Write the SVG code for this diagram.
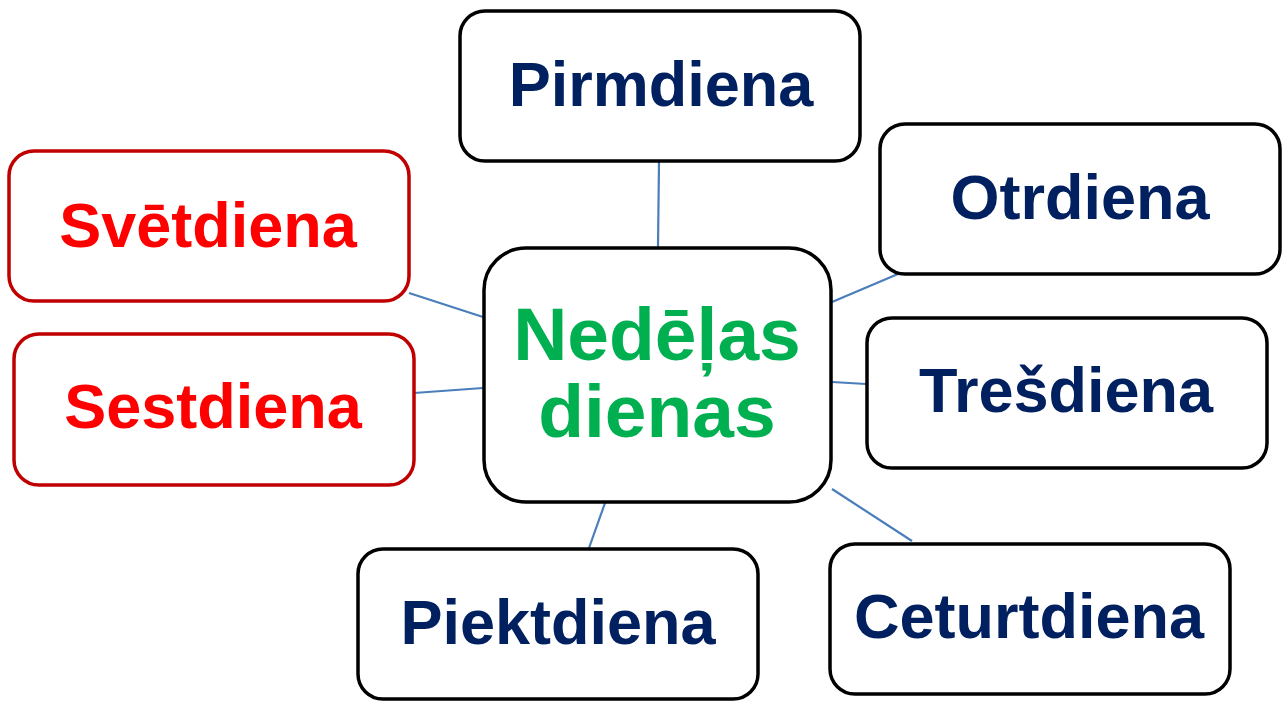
<svg xmlns="http://www.w3.org/2000/svg" width="1287" height="702" viewBox="0 0 1287 702">
<style>
.box{fill:#fff;stroke:#000;stroke-width:3.5}
.red{stroke:#C00000}
.t{font-family:"Liberation Sans",Arial,sans-serif;font-weight:bold;font-size:63px;text-anchor:middle}
.big{font-size:75px}
.blue{fill:#002060}
.rt{fill:#FF0000}
.gt{fill:#00B050}
.c{stroke:#4A7EBB;stroke-width:2.2;fill:none}
</style>
<rect width="1287" height="702" fill="#fff"/>
<g id="connectors">
<line class="c" x1="659" y1="161" x2="658" y2="247"/>
<line class="c" x1="898" y1="274" x2="832" y2="302"/>
<line class="c" x1="409" y1="293" x2="483" y2="317"/>
<line class="c" x1="414" y1="393" x2="483" y2="388"/>
<line class="c" x1="832" y1="382" x2="866" y2="384"/>
<line class="c" x1="605" y1="503" x2="589" y2="548"/>
<line class="c" x1="832" y1="489" x2="912" y2="541"/>
</g>
<g id="center"><rect class="box" x="484" y="248" width="347" height="254" rx="42"/>
<text class="t big gt" x="657" y="360">Nedēļas</text><text class="t big gt" x="657" y="437">dienas</text></g>
<g id="pirmdiena"><rect class="box" x="460" y="11" width="400" height="150" rx="25"/><text class="t blue" x="661" y="106">Pirmdiena</text></g>
<g id="otrdiena"><rect class="box" x="880" y="124" width="400" height="150" rx="25"/><text class="t blue" x="1080" y="219">Otrdiena</text></g>
<g id="tresdiena"><rect class="box" x="867" y="318" width="400" height="150" rx="25"/><text class="t blue" x="1066" y="412">Trešdiena</text></g>
<g id="ceturtdiena"><rect class="box" x="830" y="544" width="400" height="150" rx="25"/><text class="t blue" x="1029" y="638">Ceturtdiena</text></g>
<g id="piektdiena"><rect class="box" x="358" y="549" width="400" height="150" rx="25"/><text class="t blue" x="558" y="644">Piektdiena</text></g>
<g id="sestdiena"><rect class="box red" x="14" y="334" width="400" height="151" rx="25"/><text class="t rt" x="213" y="428">Sestdiena</text></g>
<g id="svetdiena"><rect class="box red" x="9" y="151" width="400" height="150" rx="25"/><text class="t rt" x="208" y="247">Svētdiena</text></g>
</svg>
